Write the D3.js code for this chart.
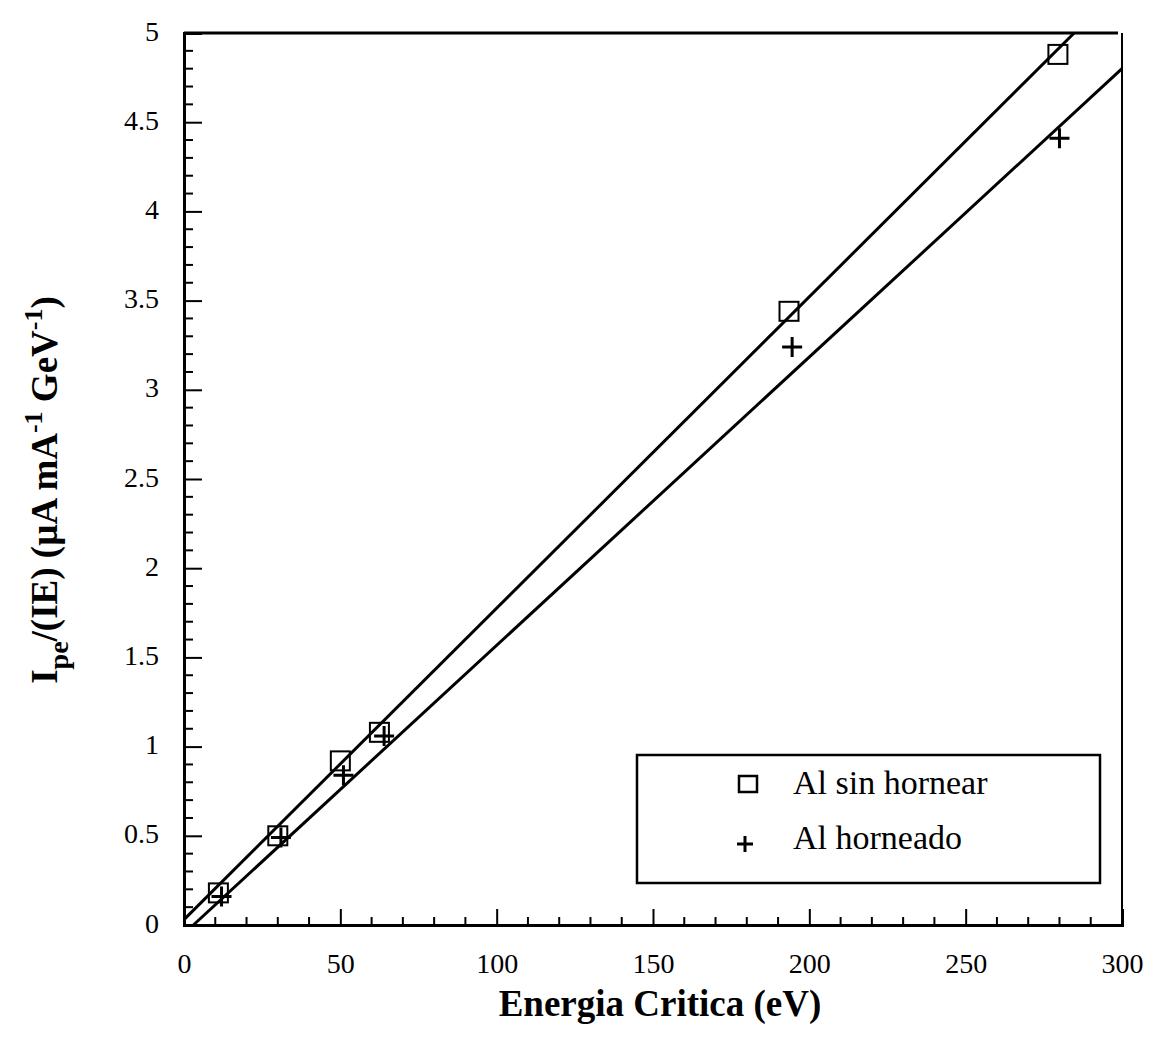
<!DOCTYPE html>
<html>
<head>
<meta charset="utf-8">
<script src="https://cdn.jsdelivr.net/npm/d3@7"></script>
<style>
  body { margin: 0; background: #fff; }
  text { font-family: "Liberation Serif", "DejaVu Serif", serif; fill: #000; }
</style>
</head>
<body>
<div class="chart"></div>
<script>
// data
const energia = [11, 30, 50, 62.5, 193.5, 279.5];
const sinHornear = [0.18, 0.50, 0.92, 1.08, 3.44, 4.88];
const energiaH = [12, 31, 51, 64, 194.5, 280];
const horneado = [0.16, 0.49, 0.84, 1.06, 3.24, 4.41];

// fitted lines, start and end points
const fitSinX = [0, 284.7];
const fitSinY = [0.03, 5.0];
const fitHornX = [3, 300];
const fitHornY = [0.0, 4.80];

const xTicks = [0, 50, 100, 150, 200, 250, 300];
const yTicks = [0, 0.5, 1, 1.5, 2, 2.5, 3, 3.5, 4, 4.5, 5];
const legendLabels = ["Al sin hornear", "Al horneado"];

let svgWidth = 1153;
let svgHeight = 1054;
const margin = {top: 33, right: 31, bottom: 129, left: 184};
let chartWidth = svgWidth - margin.left - margin.right;
let chartHeight = svgHeight - margin.top - margin.bottom;

let svg = d3.select(".chart").append("svg")
  .attr("width", svgWidth)
  .attr("height", svgHeight);

let chart = svg.append("g")
  .attr("transform", `translate(${margin.left},${margin.top})`);

let x = d3.scaleLinear().domain([0, 300]).range([0, chartWidth]);
let y = d3.scaleLinear().domain([0, 5]).range([chartHeight, 0]);

// axes, ticks pointing inward
let bottomAxis = d3.axisBottom(x).tickValues(xTicks).tickSize(-16).tickPadding(28).tickFormat(d3.format("d"));
let leftAxis = d3.axisLeft(y).tickValues(yTicks).tickSize(-18).tickPadding(25).tickFormat(d => d);

let gx = chart.append("g").attr("transform", `translate(0,${chartHeight})`).call(bottomAxis);
let gy = chart.append("g").call(leftAxis);

// minor ticks
let xMinor = d3.range(0, 301, 10).filter(d => d % 50 !== 0);
let yMinor = d3.range(0, 51, 1).map(d => d / 10).filter(d => Math.round(d * 10) % 5 !== 0);
chart.append("g").selectAll("line").data(xMinor).enter().append("line")
  .attr("x1", d => x(d)).attr("x2", d => x(d))
  .attr("y1", chartHeight).attr("y2", chartHeight - 8)
  .attr("stroke", "#000").attr("stroke-width", 2);
chart.append("g").selectAll("line").data(yMinor).enter().append("line")
  .attr("x1", 0).attr("x2", 9)
  .attr("y1", d => y(d)).attr("y2", d => y(d))
  .attr("stroke", "#000").attr("stroke-width", 2);

[gx, gy].forEach(g => {
  g.attr("font-size", null).attr("font-family", null);
  g.select(".domain").attr("stroke-width", 3);
  g.selectAll(".tick line").attr("stroke-width", 2);
  g.selectAll(".tick text").style("font-size", "28px");
});
gy.selectAll(".tick text").attr("dy", "0.25em");

// frame top and right
chart.append("line").attr("x1", 0).attr("x2", chartWidth - 4).attr("y1", 0).attr("y2", 0)
  .attr("stroke", "#000").attr("stroke-width", 3);
chart.append("line").attr("x1", chartWidth).attr("x2", chartWidth).attr("y1", 0).attr("y2", chartHeight)
  .attr("stroke", "#000").attr("stroke-width", 2);

// fit lines
let line = d3.line().x(d => x(d[0])).y(d => y(d[1]));
chart.append("path").datum(d3.zip(fitSinX, fitSinY)).attr("d", line)
  .attr("fill", "none").attr("stroke", "#000").attr("stroke-width", 3);
chart.append("path").datum(d3.zip(fitHornX, fitHornY)).attr("d", line)
  .attr("fill", "none").attr("stroke", "#000").attr("stroke-width", 3);

// markers
const sq = 19;
chart.append("g").selectAll("rect").data(d3.zip(energia, sinHornear)).enter().append("rect")
  .attr("x", d => x(d[0]) - sq / 2).attr("y", d => y(d[1]) - sq / 2)
  .attr("width", sq).attr("height", sq)
  .attr("fill", "none").attr("stroke", "#000").attr("stroke-width", 2);

function plus(g, cx, cy, r) {
  g.append("path")
    .attr("d", `M${cx - r},${cy}H${cx + r}M${cx},${cy - r}V${cy + r}`)
    .attr("stroke", "#000").attr("stroke-width", 3).attr("fill", "none");
}
let crosses = chart.append("g");
d3.zip(energiaH, horneado).forEach(d => plus(crosses, x(d[0]), y(d[1]), 10));

// legend
let legend = svg.append("g");
legend.append("rect").attr("x", 637).attr("y", 755).attr("width", 463).attr("height", 128)
  .attr("fill", "#fff").attr("stroke", "#000").attr("stroke-width", 2.5);
legend.append("rect").attr("x", 739).attr("y", 776).attr("width", 18).attr("height", 16)
  .attr("fill", "none").attr("stroke", "#000").attr("stroke-width", 2.5);
plus(legend, 745, 844, 8);
legend.selectAll("text.lab").data(legendLabels).enter().append("text")
  .attr("x", 793).attr("y", (d, i) => 794 + i * 55)
  .style("font-size", "34px").text(d => d);

// axis titles
svg.append("text").attr("x", 660).attr("y", 1016).attr("text-anchor", "middle")
  .style("font-size", "37px").style("font-weight", "bold").text("Energia Critica (eV)");

let yt = svg.append("text").attr("transform", "translate(57,490) rotate(-90)")
  .attr("text-anchor", "middle").style("font-size", "37px").style("font-weight", "bold");
yt.append("tspan").text("I");
yt.append("tspan").attr("dy", 11).style("font-size", "28px").text("pe");
yt.append("tspan").attr("dy", -11).text("/(IE) (µA mA");
yt.append("tspan").attr("dy", -15).style("font-size", "26px").text("-1");
yt.append("tspan").attr("dy", 15).text(" GeV");
yt.append("tspan").attr("dy", -15).style("font-size", "26px").text("-1");
yt.append("tspan").attr("dy", 15).text(")");
</script>
</body>
</html>
